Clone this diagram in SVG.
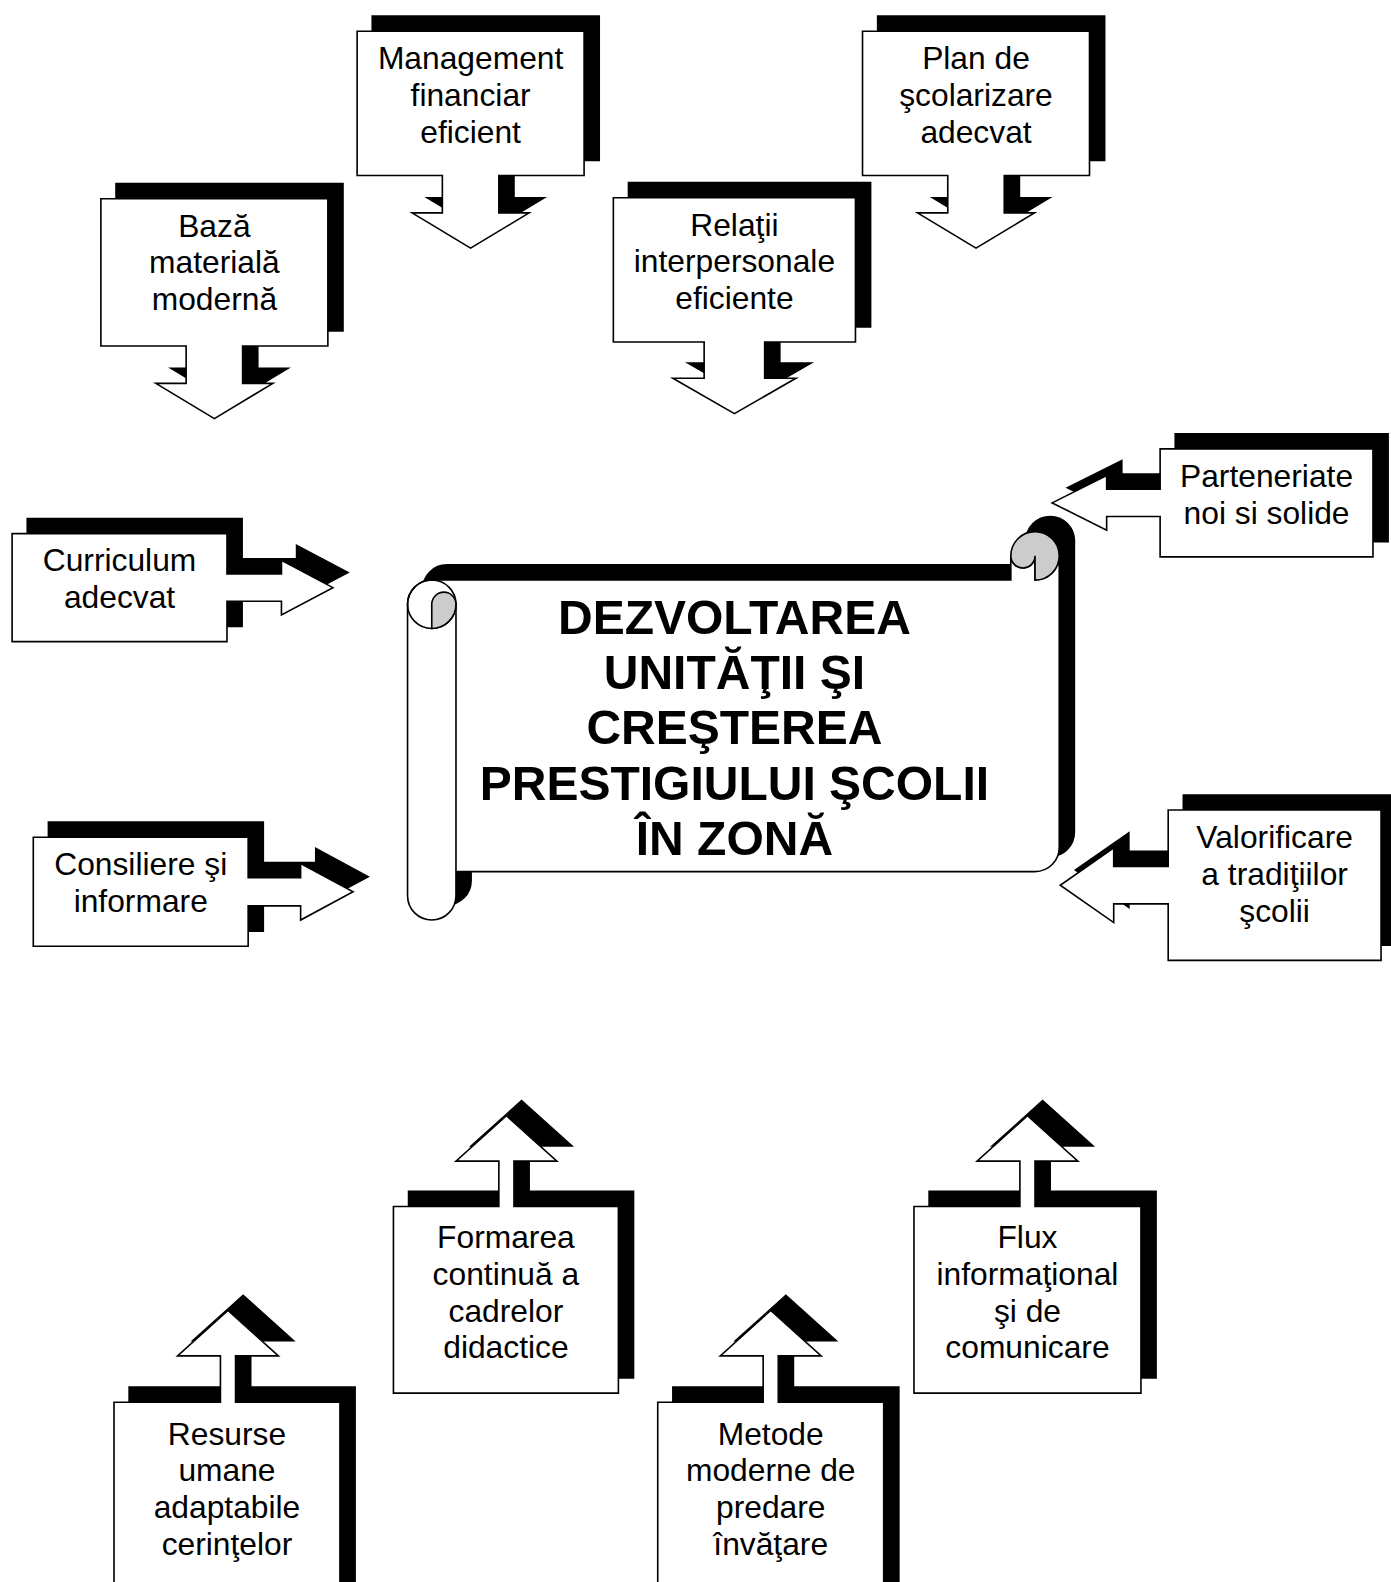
<svg xmlns="http://www.w3.org/2000/svg" xmlns:xlink="http://www.w3.org/1999/xlink" width="1391" height="1582" viewBox="0 0 1391 1582">
<style>
.sh{fill:#000;stroke:#000;stroke-width:1.6;stroke-linejoin:miter}
.bx{fill:#fff;stroke:#000;stroke-width:1.6;stroke-linejoin:miter}
.t{font-family:"Liberation Sans",Arial,sans-serif;font-size:31.5px;text-anchor:middle;fill:#000}
.tt{font-family:"Liberation Sans",Arial,sans-serif;font-size:47.6px;font-weight:bold;text-anchor:middle;fill:#000}
.curl{fill:#cccccc;stroke:#000;stroke-width:1.6}
.ln{fill:none;stroke:#000;stroke-width:1.6}
</style>
<defs>
<polygon id="p-baza" points="100,197 325,197 325,343 240.5,343 240.5,380 270.5,380 212.5,415 154.5,380 184.5,380 184.5,343 100,343"/>
<polygon id="p-mgmt" points="354,31 579,31 579,174 494.5,174 494.5,211 524.5,211 466.5,246 408.5,211 438.5,211 438.5,174 354,174"/>
<polygon id="p-rel" points="608,196 848,196 848,339 758,339 758,375 789,375 728,410 667,375 698,375 698,339 608,339"/>
<polygon id="p-plan" points="855,31 1080,31 1080,174 995.5,174 995.5,211 1025.5,211 967.5,246 909.5,211 939.5,211 939.5,174 855,174"/>
<polygon id="p-curr" points="12,529 225,529 225,569 279,569 279,555.5 330,582.5 279,609.5 279,596 225,596 225,636 12,636"/>
<polygon id="p-cons" points="33,830 246,830 246,870 298,870 298,856 350,884 298,912 298,898 246,898 246,938 33,938"/>
<polygon id="p-part" points="1150,445 1361,445 1361,552 1150,552 1150,512 1097,512 1097,525.5 1043,498.5 1097,471.5 1097,485 1150,485"/>
<polygon id="p-val" points="1158,803 1369,803 1369,952 1158,952 1158,896 1104,896 1104,914.5 1051,877.5 1104,840.5 1104,859 1158,859"/>
<polygon id="p-form" points="390,1196 494.5,1196 494.5,1151 452,1151 502,1106 552,1151 509.5,1151 509.5,1196 613,1196 613,1381 390,1381"/>
<polygon id="p-flux" points="906,1196 1011,1196 1011,1151 968.5,1151 1018.5,1106 1068.5,1151 1026,1151 1026,1196 1131,1196 1131,1381 906,1381"/>
<polygon id="p-res" points="113,1390 218.5,1390 218.5,1344 176,1344 226,1299 276,1344 233.5,1344 233.5,1390 337,1390 337,1600 113,1600"/>
<polygon id="p-met" points="652,1390 756.5,1390 756.5,1344 714,1344 764,1299 814,1344 771.5,1344 771.5,1390 876,1390 876,1600 652,1600"/>
<path id="scroll-out" d="M24,48 L598,48 L598,24 A12,12 0 0 0 622,24 L622,48 A24,24 0 0 0 646,24 L646,313 A24,24 0 0 1 622,337 L48,337 L48,361 A24,24 0 0 1 0,361 L0,72 A24,24 0 0 1 24,48 Z"/>
</defs>
<rect x="0" y="0" width="1391" height="1582" fill="#fff"/>
<g transform="scale(1.0088)">

<g id="title-scroll">
  <g transform="translate(404,527)">
    <g transform="translate(15,-15)">
      <use xlink:href="#scroll-out" class="sh"/>
      <circle cx="622" cy="24" r="24" class="sh"/>
    </g>
    <use xlink:href="#scroll-out" class="bx"/>
    <circle cx="24" cy="72" r="24" class="ln"/>
    <path class="curl" d="M24,96 L24,72 A12,12 0 0 1 48,72 A24,24 0 0 1 24,96 Z"/>
    <path class="ln" d="M48,72 L48,337"/>
    <path class="curl" d="M622,48 A24,24 0 1 0 598,24 A12,12 0 0 0 622,24 Z"/>
  </g>
  <text class="tt" x="728" y="628">DEZVOLTAREA</text>
  <text class="tt" x="728" y="683">UNITĂŢII ŞI</text>
  <text class="tt" x="728" y="738">CREŞTEREA</text>
  <text class="tt" x="728" y="793">PRESTIGIULUI ŞCOLII</text>
  <text class="tt" x="728" y="848">ÎN ZONĂ</text>
</g>

<g id="node-baza">
  <use xlink:href="#p-baza" class="sh" x="15" y="-15"/>
  <use xlink:href="#p-baza" class="bx"/>
  <text class="t" x="212.5" y="234.5">Bază</text>
  <text class="t" x="212.5" y="271">materială</text>
  <text class="t" x="212.5" y="307.5">modernă</text>
</g>

<g id="node-management">
  <use xlink:href="#p-mgmt" class="sh" x="15" y="-15"/>
  <use xlink:href="#p-mgmt" class="bx"/>
  <text class="t" x="466.5" y="68.5">Management</text>
  <text class="t" x="466.5" y="105">financiar</text>
  <text class="t" x="466.5" y="141.5">eficient</text>
</g>

<g id="node-relatii">
  <use xlink:href="#p-rel" class="sh" x="15" y="-15"/>
  <use xlink:href="#p-rel" class="bx"/>
  <text class="t" x="728" y="233.5">Relaţii</text>
  <text class="t" x="728" y="270">interpersonale</text>
  <text class="t" x="728" y="306.5">eficiente</text>
</g>

<g id="node-plan">
  <use xlink:href="#p-plan" class="sh" x="15" y="-15"/>
  <use xlink:href="#p-plan" class="bx"/>
  <text class="t" x="967.5" y="68.5">Plan de</text>
  <text class="t" x="967.5" y="105">şcolarizare</text>
  <text class="t" x="967.5" y="141.5">adecvat</text>
</g>

<g id="node-curriculum">
  <use xlink:href="#p-curr" class="sh" x="15" y="-15"/>
  <use xlink:href="#p-curr" class="bx"/>
  <text class="t" x="118.5" y="566.5">Curriculum</text>
  <text class="t" x="118.5" y="603">adecvat</text>
</g>

<g id="node-consiliere">
  <use xlink:href="#p-cons" class="sh" x="15" y="-15"/>
  <use xlink:href="#p-cons" class="bx"/>
  <text class="t" x="139.5" y="867.5">Consiliere şi</text>
  <text class="t" x="139.5" y="904">informare</text>
</g>

<g id="node-parteneriate">
  <use xlink:href="#p-part" class="sh" x="15" y="-15"/>
  <use xlink:href="#p-part" class="bx"/>
  <text class="t" x="1255.5" y="482.5">Parteneriate</text>
  <text class="t" x="1255.5" y="519">noi si solide</text>
</g>

<g id="node-valorificare">
  <use xlink:href="#p-val" class="sh" x="15" y="-15"/>
  <use xlink:href="#p-val" class="bx"/>
  <text class="t" x="1263.5" y="840.5">Valorificare</text>
  <text class="t" x="1263.5" y="877">a tradiţiilor</text>
  <text class="t" x="1263.5" y="913.5">şcolii</text>
</g>

<g id="node-formarea">
  <use xlink:href="#p-form" class="sh" x="15" y="-15"/>
  <use xlink:href="#p-form" class="bx"/>
  <text class="t" x="501.5" y="1237">Formarea</text>
  <text class="t" x="501.5" y="1273.5">continuă a</text>
  <text class="t" x="501.5" y="1310">cadrelor</text>
  <text class="t" x="501.5" y="1346.5">didactice</text>
</g>

<g id="node-flux">
  <use xlink:href="#p-flux" class="sh" x="15" y="-15"/>
  <use xlink:href="#p-flux" class="bx"/>
  <text class="t" x="1018.5" y="1237">Flux</text>
  <text class="t" x="1018.5" y="1273.5">informaţional</text>
  <text class="t" x="1018.5" y="1310">şi de</text>
  <text class="t" x="1018.5" y="1346.5">comunicare</text>
</g>

<g id="node-resurse">
  <use xlink:href="#p-res" class="sh" x="15" y="-15"/>
  <use xlink:href="#p-res" class="bx"/>
  <text class="t" x="225" y="1432">Resurse</text>
  <text class="t" x="225" y="1468.5">umane</text>
  <text class="t" x="225" y="1505">adaptabile</text>
  <text class="t" x="225" y="1541.5">cerinţelor</text>
</g>

<g id="node-metode">
  <use xlink:href="#p-met" class="sh" x="15" y="-15"/>
  <use xlink:href="#p-met" class="bx"/>
  <text class="t" x="764" y="1432">Metode</text>
  <text class="t" x="764" y="1468.5">moderne de</text>
  <text class="t" x="764" y="1505">predare</text>
  <text class="t" x="764" y="1541.5">învăţare</text>
</g>

</g>
</svg>
